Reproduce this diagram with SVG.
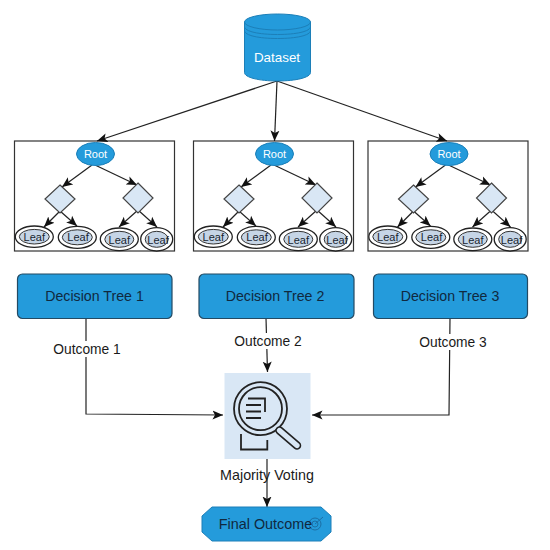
<svg xmlns="http://www.w3.org/2000/svg" width="550" height="550" viewBox="0 0 550 550">
<style>
text{font-family:"Liberation Sans",Arial,sans-serif;text-anchor:middle}
.box{fill:#fff;stroke:#333;stroke-width:1.2}
.c{fill:none;stroke:#222;stroke-width:1.2;marker-end:url(#arr)}
.n{fill:none;stroke:#222;stroke-width:1.2}
.blue{fill:#249bdb;stroke:#1c7fb8;stroke-width:1}
.dt{fill:#249bdb;stroke:#234a63;stroke-width:1.2}
.dia{fill:#d9e7f5;stroke:#444;stroke-width:1.2}
.lo{fill:#fff;stroke:#222;stroke-width:1.3}
.li{fill:#c6d5e6;stroke:#333;stroke-width:1}
.lt{font-size:11px;fill:#1a2530}
.rt{font-size:11px;fill:#fff}
.dtt{font-size:14.200px;fill:#10293f}
.lab{font-size:13.800px;fill:#1a1a1a}
.ic{fill:none;stroke:#222;stroke-width:1.800}
</style>
<defs>
<marker id="arr" markerUnits="userSpaceOnUse" markerWidth="11" markerHeight="10" refX="10.500" refY="5" orient="auto">
<path d="M0 0.500L10.500 5L0 9.500L2.500 5Z" fill="#111"/>
</marker>
</defs>
<rect width="550" height="550" fill="#fff"/>
<g id="tree-frames">
<rect class="box" x="14.500" y="141" width="160" height="110"/>
<rect class="box" x="193.500" y="141" width="160" height="110"/>
<rect class="box" x="368" y="141" width="160" height="110"/>
</g>
<g id="connectors">
<path class="c" d="M277 81L97 141"/>
<path class="c" d="M277 81L274.500 141"/>
<path class="c" d="M277 81L447 141"/>
<g id="tree1-edges">
<path class="c" d="M92 165L62 187"/><path class="c" d="M95 165L137 185"/><path class="c" d="M60 211L44 227"/><path class="c" d="M60 211L77 226"/><path class="c" d="M138 210L119 227"/><path class="c" d="M138 210L157 227"/>
</g>
<g id="tree2-edges" transform="translate(179 0)">
<path class="c" d="M92 165L62 187"/><path class="c" d="M95 165L137 185"/><path class="c" d="M60 211L44 227"/><path class="c" d="M60 211L77 226"/><path class="c" d="M138 210L119 227"/><path class="c" d="M138 210L157 227"/>
</g>
<g id="tree3-edges" transform="translate(353.500 0)">
<path class="c" d="M92 165L62 187"/><path class="c" d="M95 165L137 185"/><path class="c" d="M60 211L44 227"/><path class="c" d="M60 211L77 226"/><path class="c" d="M138 210L119 227"/><path class="c" d="M138 210L157 227"/>
</g>
<path class="c" d="M86 318V414L223 415"/>
<path class="c" d="M266 318L267.500 372"/>
<path class="c" d="M450 318L449 415H312"/>
<path class="c" d="M267 459V507"/>
</g>
<g id="dataset">
<path class="blue" d="M244.500 22V72.500C244.500 77.500 259 81 277.500 81S310.500 77.500 310.500 72.500V22Z"/>
<ellipse class="blue" cx="277.500" cy="22" rx="33" ry="8"/>
<path fill="none" stroke="#1c7fb8" d="M244.500 26.500C244.500 31.500 259 34.500 277.500 34.500S310.500 31.500 310.500 26.500M244.500 30.500C244.500 35.500 259 38.500 277.500 38.500S310.500 35.500 310.500 30.500"/>
<text x="277" y="62" font-size="13.400" fill="#fff">Dataset</text>
</g>
<g id="tree1">
<g id="t1-root"><ellipse class="blue" cx="95.500" cy="154" rx="19" ry="11.500"/><text class="rt" x="95.500" y="158">Root</text></g>
<polygon id="t1-d1" class="dia" points="60,185 75,199 60,213 45,199"/>
<polygon id="t1-d2" class="dia" points="138,183 153,198 138,213 123,198"/>
<g id="t1-l1"><ellipse class="lo" cx="34.300" cy="236.700" rx="19" ry="10.700"/><ellipse class="li" cx="34.300" cy="236.700" rx="15" ry="7.300"/><text class="lt" x="34.300" y="240.500">Leaf</text></g>
<g id="t1-l2"><ellipse class="lo" cx="77.300" cy="237.300" rx="19" ry="11"/><ellipse class="li" cx="77.300" cy="237.300" rx="15" ry="7.500"/><text class="lt" x="78" y="241">Leaf</text></g>
<g id="t1-l3"><ellipse class="lo" cx="119.300" cy="239.300" rx="19" ry="11.300"/><ellipse class="li" cx="119.300" cy="239.300" rx="14.500" ry="8"/><text class="lt" x="119.300" y="243.500">Leaf</text></g>
<g id="t1-l4"><ellipse class="lo" cx="156.700" cy="239.300" rx="16" ry="11.700"/><ellipse class="li" cx="156.700" cy="239.300" rx="11.500" ry="8"/><text class="lt" x="158" y="243.500">Leaf</text></g>
</g>
<g id="tree2" transform="translate(179 0)">
<g id="t2-root"><ellipse class="blue" cx="95.500" cy="154" rx="19" ry="11.500"/><text class="rt" x="95.500" y="158">Root</text></g>
<polygon id="t2-d1" class="dia" points="60,185 75,199 60,213 45,199"/>
<polygon id="t2-d2" class="dia" points="138,183 153,198 138,213 123,198"/>
<g id="t2-l1"><ellipse class="lo" cx="34.300" cy="236.700" rx="19" ry="10.700"/><ellipse class="li" cx="34.300" cy="236.700" rx="15" ry="7.300"/><text class="lt" x="34.300" y="240.500">Leaf</text></g>
<g id="t2-l2"><ellipse class="lo" cx="77.300" cy="237.300" rx="19" ry="11"/><ellipse class="li" cx="77.300" cy="237.300" rx="15" ry="7.500"/><text class="lt" x="78" y="241">Leaf</text></g>
<g id="t2-l3"><ellipse class="lo" cx="119.300" cy="239.300" rx="19" ry="11.300"/><ellipse class="li" cx="119.300" cy="239.300" rx="14.500" ry="8"/><text class="lt" x="119.300" y="243.500">Leaf</text></g>
<g id="t2-l4"><ellipse class="lo" cx="156.700" cy="239.300" rx="16" ry="11.700"/><ellipse class="li" cx="156.700" cy="239.300" rx="11.500" ry="8"/><text class="lt" x="158" y="243.500">Leaf</text></g>
</g>
<g id="tree3" transform="translate(353.500 0)">
<g id="t3-root"><ellipse class="blue" cx="95.500" cy="154" rx="19" ry="11.500"/><text class="rt" x="95.500" y="158">Root</text></g>
<polygon id="t3-d1" class="dia" points="60,185 75,199 60,213 45,199"/>
<polygon id="t3-d2" class="dia" points="138,183 153,198 138,213 123,198"/>
<g id="t3-l1"><ellipse class="lo" cx="34.300" cy="236.700" rx="19" ry="10.700"/><ellipse class="li" cx="34.300" cy="236.700" rx="15" ry="7.300"/><text class="lt" x="34.300" y="240.500">Leaf</text></g>
<g id="t3-l2"><ellipse class="lo" cx="77.300" cy="237.300" rx="19" ry="11"/><ellipse class="li" cx="77.300" cy="237.300" rx="15" ry="7.500"/><text class="lt" x="78" y="241">Leaf</text></g>
<g id="t3-l3"><ellipse class="lo" cx="119.300" cy="239.300" rx="19" ry="11.300"/><ellipse class="li" cx="119.300" cy="239.300" rx="14.500" ry="8"/><text class="lt" x="119.300" y="243.500">Leaf</text></g>
<g id="t3-l4"><ellipse class="lo" cx="156.700" cy="239.300" rx="16" ry="11.700"/><ellipse class="li" cx="156.700" cy="239.300" rx="11.500" ry="8"/><text class="lt" x="158" y="243.500">Leaf</text></g>
</g>
<g id="decision-tree-1"><rect class="dt" x="17.500" y="274" width="154.500" height="44.500" rx="5"/><text class="dtt" x="94.500" y="300.500">Decision Tree 1</text></g>
<g id="decision-tree-2"><rect class="dt" x="199" y="274" width="155" height="44.500" rx="5"/><text class="dtt" x="275" y="300.500">Decision Tree 2</text></g>
<g id="decision-tree-3"><rect class="dt" x="373.500" y="274" width="154" height="44.500" rx="5"/><text class="dtt" x="450" y="300.500">Decision Tree 3</text></g>
<g id="outcome-labels">
<rect x="51" y="341" width="72" height="16" fill="#fff"/><text class="lab" x="87" y="353.500">Outcome 1</text>
<rect x="231" y="333" width="74" height="16" fill="#fff"/><text class="lab" x="268" y="345.500">Outcome 2</text>
<rect x="416" y="334" width="74" height="16" fill="#fff"/><text class="lab" x="453" y="346.500">Outcome 3</text>
</g>
<g id="majority-voting">
<rect x="224.500" y="373" width="86" height="86" fill="#d9e7f5"/>
<circle class="ic" cx="260.500" cy="408.700" r="26.500"/>
<circle class="ic" cx="260.500" cy="408.700" r="21.500"/>
<path class="ic" d="M248 398.500H265V412M246 405H261M246 411.500H261M246 418H261"/>
<path d="M279.500 430.500L297 445.500" fill="none" stroke="#222" stroke-width="8.500" stroke-linecap="round"/>
<path d="M279.500 430.500L297 445.500" fill="none" stroke="#d9e7f5" stroke-width="5.200" stroke-linecap="round"/>
<path class="ic" d="M241 434V449.500H267.300V440"/>
<text class="lab" x="267" y="479.500" style="font-size:14.300px">Majority Voting</text>
</g>
<g id="final-outcome">
<polygon class="blue" points="212,507 321,507 331,516 331,532 321,541 212,541 202,532 202,516"/>
<circle cx="315" cy="524" r="6" fill="none" stroke="#1c6fa5"/><circle cx="315" cy="524" r="3" fill="none" stroke="#1c6fa5"/><path d="M315 524L323 517" stroke="#1c6fa5" fill="none"/>
<text x="265.500" y="529" font-size="14.400" fill="#10293f">Final Outcome</text>
</g>
</svg>
